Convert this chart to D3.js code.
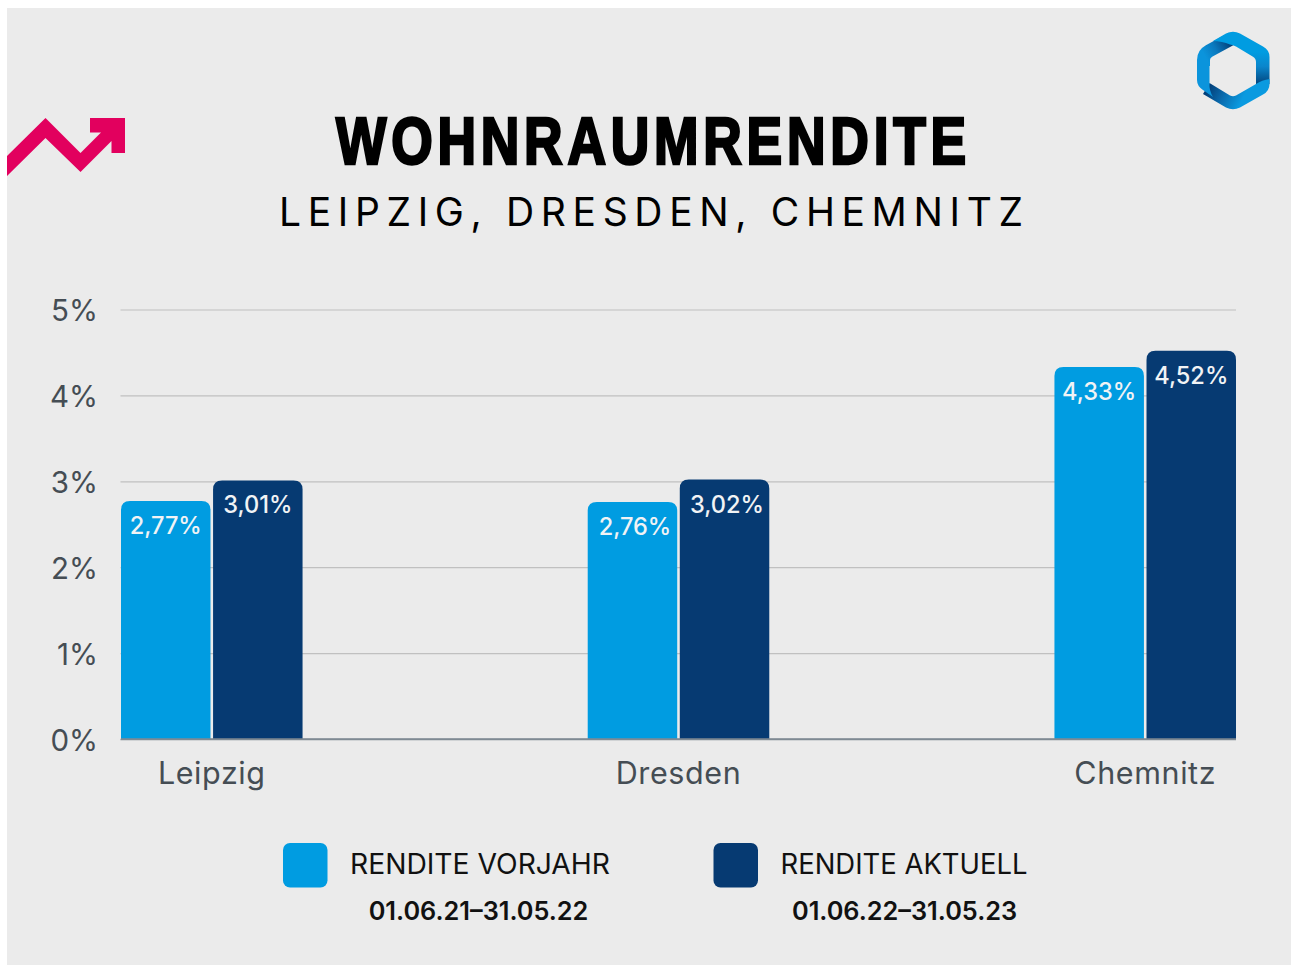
<!DOCTYPE html>
<html><head><meta charset="utf-8">
<script src="https://cdn.jsdelivr.net/npm/d3@7"></script>
<style>html,body{margin:0;padding:0;background:#fff;overflow:hidden}svg{display:block}text{font-family:Inter,"Noto Sans",sans-serif}</style>
</head><body><div id="chart"></div>
<script>
const categories = ["Leipzig","Dresden","Chemnitz"];
const seriesNames = ["RENDITE VORJAHR","RENDITE AKTUELL"];
const seriesPeriods = ["01.06.21–31.05.22","01.06.22–31.05.23"];
const vorjahr = [2.77,2.76,4.33];
const aktuell = [3.01,3.02,4.52];
const yTicks = [0,1,2,3,4,5];
const colors = ["#009ce1","#063a72"];
const labelNudge = [0,2.5,0];
const fmt = v => v.toFixed(2).replace(".",",")+"%";

const svg = d3.select("#chart").append("svg").attr("width",1291).attr("height",965);
svg.append("rect").attr("x",7).attr("y",8).attr("width",1284).attr("height",957).attr("fill","#ebebeb");

const y = d3.scaleLinear().domain([0,5]).range([739,309.5]);
const x0 = d3.scaleBand().domain(categories).range([121,1236]).paddingInner(0.611).paddingOuter(0);
const x1 = d3.scaleBand().domain([0,1]).range([0,x0.bandwidth()]).paddingInner(0.028);

// gridlines and y labels
const yAxis = svg.append("g").attr("transform","translate(120.5,0)")
  .call(d3.axisLeft(y).tickValues(yTicks).tickFormat(d=>d+"%").tickSize(-1115.5).tickPadding(22.5));
yAxis.select(".domain").remove();
yAxis.selectAll(".tick line").attr("stroke",d=>d===0?"#7f8a93":"#c0c0c0").attr("stroke-width",d=>d===0?1.3:1.2);
yAxis.selectAll("text").attr("fill","#454d54").attr("font-weight",400).attr("dy","0.38em")
  .style("font-family","Inter").style("font-size","29.5px");

// bars
function topRounded(x,yt,w,b,r){
  return `M${x},${b}V${yt+r}Q${x},${yt} ${x+r},${yt}H${x+w-r}Q${x+w},${yt} ${x+w},${yt+r}V${b}Z`;
}
[vorjahr,aktuell].forEach((vals,s)=>{
  const g = svg.append("g");
  g.selectAll("path").data(vals).join("path")
    .attr("d",(d,i)=>topRounded(x0(categories[i])+x1(s),y(d),x1.bandwidth(),y(0),9))
    .attr("fill",colors[s]);
  g.selectAll("text").data(vals).join("text")
    .attr("x",(d,i)=>x0(categories[i])+x1(s)+x1.bandwidth()/2+labelNudge[i])
    .attr("y",d=>y(d)+33)
    .attr("text-anchor","middle").attr("fill","#f1f3f5")
    .attr("font-size",23.6).attr("font-weight",500).text(fmt);
});

// baseline on top of bars
svg.append("line").attr("x1",121).attr("x2",1236).attr("y1",y(0)).attr("y2",y(0)).attr("stroke","#7f8a93").attr("stroke-width",1.3);

// category labels
svg.append("g").selectAll("text").data(categories).join("text")
  .attr("x",d=>x0(d)+x0.bandwidth()/2).attr("y",784)
  .attr("text-anchor","middle").attr("font-size",30.5).attr("letter-spacing",0.6).attr("fill","#454d54").text(d=>d);

// title
svg.append("text").attr("x",653.5).attr("y",164).attr("text-anchor","middle")
  .attr("textLength",635).attr("lengthAdjust","spacingAndGlyphs").attr("letter-spacing",6)
  .style("font-family","'Liberation Sans',sans-serif")
  .attr("font-size",67).attr("font-weight",700).attr("fill","#000").attr("stroke","#000").attr("stroke-width",2.7)
  .text("WOHNRAUMRENDITE");
svg.append("text").attr("x",651).attr("y",226).attr("text-anchor","middle")
  .attr("textLength",744).attr("font-size",39).attr("fill","#000").text("LEIPZIG, DRESDEN, CHEMNITZ");

// legend
const legendX = [283,713.5], nameX=[350,780.5], periodX=[478.5,904.5], nameW=[260,247];
const lg = svg.append("g").selectAll("g").data(seriesNames).join("g");
lg.append("rect").attr("x",(d,i)=>legendX[i]).attr("y",843).attr("width",44.5).attr("height",44.5).attr("rx",7).attr("fill",(d,i)=>colors[i]);
lg.append("text").attr("x",(d,i)=>nameX[i]).attr("y",874).attr("font-size",28.3).attr("textLength",(d,i)=>nameW[i]).attr("lengthAdjust","spacingAndGlyphs").attr("fill","#111").text(d=>d);
lg.append("text").attr("x",(d,i)=>periodX[i]).attr("y",920).attr("text-anchor","middle").attr("font-size",25.3).attr("font-weight",600).attr("fill","#111").text((d,i)=>seriesPeriods[i]);

// decorative trend arrow
svg.append("path").attr("fill","#e2005e")
  .attr("d","M7,156L45.5,118L80.5,153L101,132.5H90V118H125V153H111.5V141L80.5,172L45.5,138L7,176Z");

// decorative logo
const defs = svg.append("defs");
function grad(id,x1g,y1g,x2g,y2g,stops){
  const g = defs.append("linearGradient").attr("id",id).attr("gradientUnits","userSpaceOnUse")
    .attr("x1",x1g).attr("y1",y1g).attr("x2",x2g).attr("y2",y2g);
  stops.forEach(s=>g.append("stop").attr("offset",s[0]).attr("stop-color",s[1]));
}
grad("lgA",1205,56,1230,42,[[0,"#0b94dc"],[0.45,"#0a78bd"],[1,"#033f78"]]);
grad("lgB",1262,52,1262,84,[[0,"#009ce1"],[0.45,"#0a86cc"],[1,"#03467f"]]);
grad("lgC",1208,88,1240,104,[[0,"#033f78"],[0.5,"#0a6db0"],[1,"#0a9ae0"]]);
const hex = svg.append("g");
hex.append("path").attr("fill","none").attr("stroke","url(#lgA)").attr("stroke-width",13)
  .attr("d","M1203.5,66V60Q1203.5,54 1209,51L1232,38.5");
hex.append("path").attr("fill","url(#lgB)")
  .attr("d","M1213,41L1226,33.5Q1233,30 1240,33.5L1263,46.5Q1269.5,50 1269.5,57V84L1256,86V62Q1256,58.5 1253,56.7L1236,46.5Q1233,45 1230,44.5Q1222,41 1213,41Z");
hex.append("path").attr("fill","url(#lgC)")
  .attr("d","M1209.5,83L1230,95.5Q1233,97 1236,95.5L1256,84Q1262,80 1269.5,79V84Q1269.5,91 1263,94.5L1240,107.5Q1233,111 1226,107.5L1203,94Z");
hex.append("path").attr("fill","#0b94dc")
  .attr("d","M1197,65V80Q1197,86 1203,90L1213,97Q1209,90 1209.5,84V65Z");
</script></body></html>
